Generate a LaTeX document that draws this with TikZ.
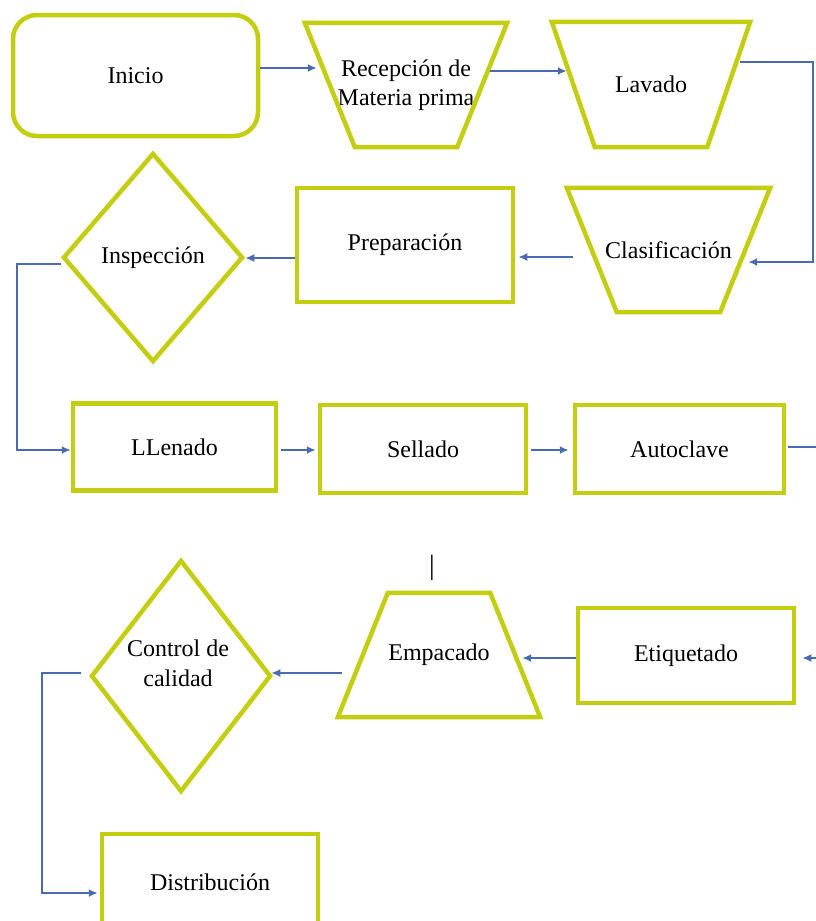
\documentclass[tikz,border=0pt]{standalone}
\usepackage{fontspec}
\setmainfont{Liberation Serif}
\usetikzlibrary{shapes.geometric,arrows.meta}
\definecolor{ylw}{RGB}{196,206,16}
\definecolor{arrc}{RGB}{74,107,178}
\tikzset{
  base/.style={draw=ylw, line width=4.5pt, fill=white, inner sep=0pt, align=center,
    font=\fontsize{24}{29}\selectfont},
  boxr/.style={base, rectangle, minimum width=#1},
  rbox/.style={base, rectangle, rounded corners=24pt},
  trapbody/.style={rectangle, inner sep=0pt, align=center, font=\fontsize{24}{29}\selectfont},
  trapline/.style={draw=ylw, line width=4.5pt, line join=miter},
  dia/.style={base, diamond, aspect=1},
  arr/.style={draw=arrc, line width=1.8pt, -{Latex[length=9pt,width=8pt]}},
  txt/.style={inner sep=0pt, align=center, font=\fontsize{24}{30}\selectfont}
}
\begin{document}
\begin{tikzpicture}[x=1pt,y=-1pt]
\useasboundingbox (0,0) rectangle (816,921);
\fill[white] (0,0) rectangle (816,921);

% row 1
\node[rbox, minimum width=245pt, minimum height=121pt] (inicio) at (135.5,75.5) {Inicio};
\node[trapbody, minimum width=202pt, minimum height=124pt] (recep) at (406,85) {Recepción de\\Materia prima};
\draw[trapline] (recep.north west) -- (recep.north east) -- ([xshift=-50pt]recep.south east) -- ([xshift=50pt]recep.south west) -- cycle;
\node[trapbody, minimum width=198pt, minimum height=125pt] (lavado) at (651,84.5) {Lavado};
\draw[trapline] (lavado.north west) -- (lavado.north east) -- ([xshift=-43pt]lavado.south east) -- ([xshift=43pt]lavado.south west) -- cycle;

% row 2
\node[trapbody, minimum width=203pt, minimum height=124pt] (clasif) at (668.5,250) {Clasificación};
\draw[trapline] (clasif.north west) -- (clasif.north east) -- ([xshift=-50pt]clasif.south east) -- ([xshift=50pt]clasif.south west) -- cycle;
\node[boxr=216pt, minimum height=114pt] (prep) at (405,245) {Preparación};
\node[dia, minimum width=180pt, minimum height=209pt] (insp) at (153,257.5) {Inspección};

% row 3
\node[boxr=203pt, minimum height=87pt] (llenado) at (174.5,447) {LLenado};
\node[boxr=206pt, minimum height=88pt] (sellado) at (423,449) {Sellado};
\node[boxr=209pt, minimum height=88pt] (autoclave) at (679.5,449) {Autoclave};

% row 4
\node[boxr=216pt, minimum height=95pt] (etiq) at (686,655.5) {Etiquetado};
\node[trapbody, minimum width=202pt, minimum height=124pt] (empac) at (439,655) {Empacado};
\draw[trapline] ([xshift=50pt]empac.north west) -- ([xshift=-50pt]empac.north east) -- (empac.south east) -- (empac.south west) -- cycle;
\node[dia, minimum width=180pt, minimum height=232pt] (control) at (181,676) {};
\node[txt] (controltxt) at (178,663) {Control de\\calidad};
\node[txt, font=\fontsize{28}{30}\selectfont] (bar) at (432,568) {|};

% row 5
\node[boxr=216pt, minimum height=96pt] (distrib) at (210,882) {Distribución};

% bend points
\coordinate (rc1) at (813,62);
\coordinate (rc2) at (813,262);
\coordinate (lc1) at (17,450);
\coordinate (ac1) at (819,447);
\coordinate (ac2) at (819,658);
\coordinate (dc1) at (42,893);

% connectors
\draw[arr] ([yshift=7.5pt]inicio.east) -- ([shift={(12pt,17pt)}]recep.west);
\draw[arr] ([shift={(-17pt,14pt)}]recep.east) -- ([shift={(15pt,13.5pt)}]lavado.west);
\draw[arr] ([shift={(-10pt,22.5pt)}]lavado.east) -- (rc1) -- (rc2) -- ([shift={(-22pt,-12pt)}]clasif.east);
\draw[arr] ([shift={(6pt,-7pt)}]clasif.west) -- ([shift={(3pt,-12pt)}]prep.east);
\draw[arr] ([yshift=-13pt]prep.west) -- ([yshift=-0.5pt]insp.east);
\draw[arr] ([yshift=-6.5pt]insp.west) -| (lc1) -- ([yshift=-3pt]llenado.west);
\draw[arr] ([shift={(3pt,-3pt)}]llenado.east) -- ([shift={(-2pt,-1pt)}]sellado.west);
\draw[arr] ([shift={(3pt,-1pt)}]sellado.east) -- ([shift={(-4pt,-1pt)}]autoclave.west);
\draw[arr] ([shift={(2pt,2pt)}]autoclave.east) -- (ac1) -- (ac2) -- ([shift={(6pt,-2.5pt)}]etiq.east);
\draw[arr] ([shift={(0pt,-2.5pt)}]etiq.west) -- ([shift={(-18pt,-3pt)}]empac.east);
\draw[arr] ([shift={(4pt,-18pt)}]empac.west) -- ([shift={(-2pt,3pt)}]control.east);
\draw[arr] ([shift={(-8pt,3pt)}]control.west) -| (dc1) -- ([shift={(-2pt,-11pt)}]distrib.west);
\end{tikzpicture}
\end{document}
